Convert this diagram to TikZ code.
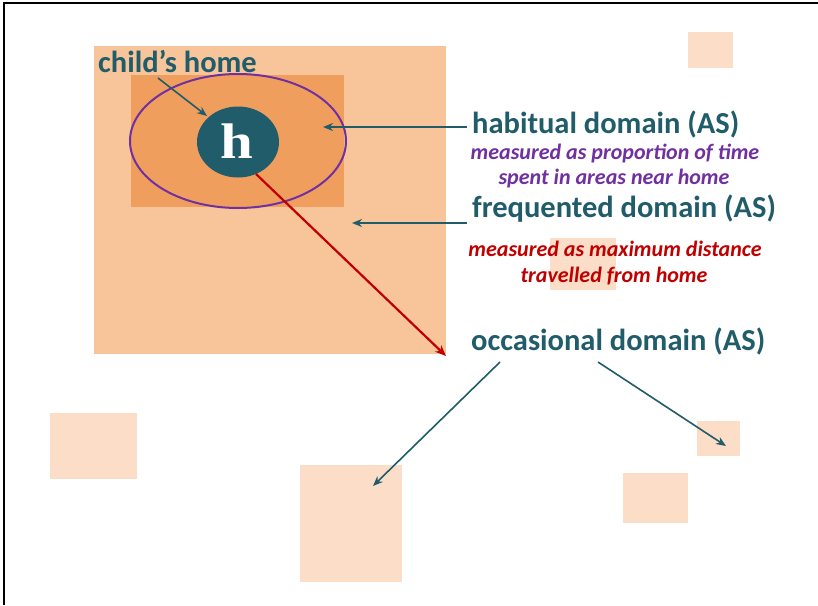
\documentclass[tikz,border=0pt]{standalone}
\usepackage{fontspec}
\usepackage{graphicx}
\setmainfont{Carlito}
\newfontfamily\hfont{Liberation Serif}
\usetikzlibrary{arrows.meta,shapes.geometric}
\definecolor{tealc}{RGB}{33,92,106}
\definecolor{lightor}{RGB}{248,196,153}
\definecolor{midor}{RGB}{240,158,94}
\definecolor{paleor}{RGB}{252,222,200}
\definecolor{purp}{RGB}{112,48,160}
\definecolor{darkred}{RGB}{192,0,0}
\tikzset{
  lbl/.style={font=\fontsize{30.5}{34}\selectfont\bfseries, text=tealc, inner sep=0pt, anchor=base west},
  note/.style={font=\fontsize{22}{26}\selectfont\bfseries\itshape, inner sep=0pt, anchor=base},
  tarrow/.style={draw=tealc, line width=1.6pt, -{Stealth[length=10pt,width=8pt]}},
  rarrow/.style={draw=darkred, line width=2.2pt, -{Stealth[length=11pt,width=9pt]}},
  patch/.style={fill=paleor}
}
\begin{document}
\begin{tikzpicture}[x=1pt,y=-1pt]
\useasboundingbox (0,0) rectangle (818,605);
\fill[white] (0,0) rectangle (818,605);
\draw[line width=2pt] (4,605) -- (4,3) -- (818,3);
% pale patches
\fill[patch] (688,32) rectangle (733,68);
\fill[patch] (50,413) rectangle (137,479);
\fill[patch] (300,465) rectangle (402,582);
\fill[patch] (697,421) rectangle (740,456);
\fill[patch] (623,473) rectangle (688,523);
\fill[patch] (550,238) rectangle (616,290);
% domains
\fill[lightor] (94,46) rectangle (446,354);
\fill[midor] (131,75) rectangle (344,207);
\draw[purp, line width=2pt] (238,141) ellipse [x radius=108, y radius=67];
\node[ellipse, fill=tealc, minimum width=82pt, minimum height=71pt, inner sep=0pt] (home) at (238,142) {};
\node[text=white, inner sep=0pt, anchor=base, font=\hfont\fontsize{50}{50}\selectfont\bfseries] (hlet) at (237,158) {\scalebox{1.18}[1]{h}};
% labels
\node[lbl] (child) at (98,72) {child’s home};
\node[lbl] (hab) at (472,133) {habitual domain (AS)};
\node[note, text=purp] (hm1) at (615,159) {measured as proportion of time};
\node[note, text=purp] (hm2) at (614,184) {spent in areas near home};
\node[lbl] (freq) at (472,217) {frequented domain (AS)};
\node[note, text=darkred] (fm1) at (615,256) {measured as maximum distance};
\node[note, text=darkred] (fm2) at (614,282) {travelled from home};
\node[lbl] (occ) at (471,350) {occasional domain (AS)};
% targets
\coordinate (habT) at (323,127);
\coordinate (freqT) at (352,223);
\coordinate (redS) at (256,174);
\coordinate (redT) at (446,356);
\coordinate (occS1) at (500,362);
\coordinate (occT1) at (373,486);
\coordinate (occS2) at (598,362);
\coordinate (occT2) at (726,446);
\coordinate (childS) at (158,78);
\coordinate (childT) at (207,116);
% connectors
\draw[tarrow] (childS) -- (childT);
\draw[tarrow] (hab.west |- habT) ++(-5,0) -- (habT);
\draw[tarrow] (freq.west |- freqT) ++(-5,0) -- (freqT);
\draw[rarrow] (redS) -- (redT);
\draw[tarrow] (occS1) -- (occT1);
\draw[tarrow] (occS2) -- (occT2);
\end{tikzpicture}
\end{document}
